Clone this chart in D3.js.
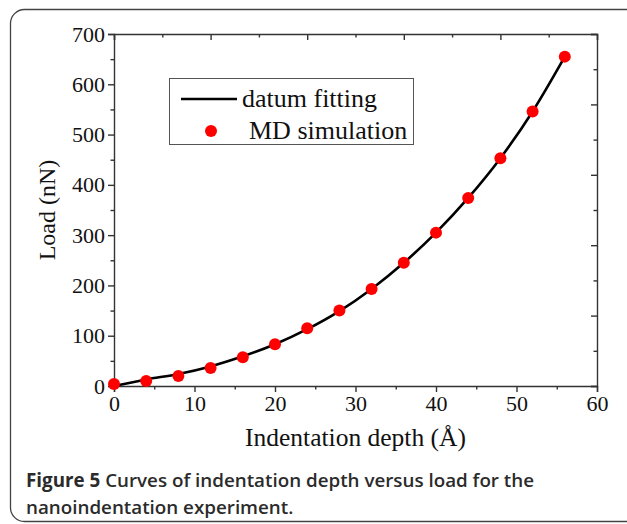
<!DOCTYPE html>
<html>
<head>
<meta charset="utf-8">
<script src="https://cdn.jsdelivr.net/npm/d3@7"></script>
<style>
  body { margin: 0; background: #fff; }
  svg { display: block; }
</style>
</head>
<body>
<div id="chart"></div>
<script>
// Chart size and plot area
const width = 627;
const height = 524;
const margin = { top: 34, right: 30, bottom: 138, left: 114 };

// Data
const depth = [0, 4, 8, 12, 16, 20, 24, 28, 32, 36, 40, 44, 48, 52, 56];
const mdLoad = [4, 10, 20, 36, 57, 83, 115, 150, 193, 245, 305, 374, 453, 546, 655];
const fitDepth = [0, 4, 8, 12, 16, 20, 24, 28, 32, 36, 40, 44, 48, 52, 56];
const fitLoad = [0, 13, 24, 39, 59, 83, 113, 149, 193, 245, 305, 374, 453, 546, 655];
const xTicks = [0, 10, 20, 30, 40, 50, 60];
const yTicks = [0, 100, 200, 300, 400, 500, 600, 700];
const legendLabels = ["datum fitting", "MD simulation"];
const captionBold = "Figure 5";
const captionLines = ["Curves of indentation depth versus load for the", "nanoindentation experiment."];

const svg = d3.select("#chart")
  .append("svg")
  .attr("width", width)
  .attr("height", height);

// Outer frame (right edge runs off the page)
svg.append("rect")
  .attr("x", 10.5).attr("y", 9.5)
  .attr("width", 660).attr("height", 512)
  .attr("rx", 14)
  .attr("fill", "none")
  .attr("stroke", "#444")
  .attr("stroke-width", 1.3);

const x = d3.scaleLinear()
  .domain([0, 60])
  .range([margin.left, width - margin.right]);

const y = d3.scaleLinear()
  .domain([0, 700])
  .range([height - margin.bottom, margin.top]);

const serif = "'Liberation Serif', 'Times New Roman', serif";

// Bottom axis: major + minor, outward
svg.append("g")
  .attr("transform", `translate(0, ${y(0)})`)
  .call(d3.axisBottom(x).tickValues(xTicks).tickSize(6).tickPadding(3).tickFormat(d3.format("d")));
svg.append("g")
  .attr("transform", `translate(0, ${y(0)})`)
  .call(d3.axisBottom(x).tickValues(d3.range(5, 60, 10)).tickSize(3.5).tickFormat(""))
  .select(".domain").remove();

// Left axis
svg.append("g")
  .attr("transform", `translate(${x(0)}, 0)`)
  .call(d3.axisLeft(y).tickValues(yTicks).tickSize(6).tickPadding(3).tickFormat(d3.format("d")));
svg.append("g")
  .attr("transform", `translate(${x(0)}, 0)`)
  .call(d3.axisLeft(y).tickValues(d3.range(50, 700, 100)).tickSize(3.5).tickFormat(""))
  .select(".domain").remove();

// Top axis: inward ticks every 6, alternating length
svg.append("g")
  .attr("transform", `translate(0, ${y(700)})`)
  .call(d3.axisTop(x).tickValues(d3.range(0, 61, 12)).tickSize(-6).tickFormat(""));
svg.append("g")
  .attr("transform", `translate(0, ${y(700)})`)
  .call(d3.axisTop(x).tickValues(d3.range(6, 60, 12)).tickSize(-3.5).tickFormat(""))
  .select(".domain").remove();

// Right axis: inward ticks every 70
svg.append("g")
  .attr("transform", `translate(${x(60)}, 0)`)
  .call(d3.axisRight(y).tickValues(d3.range(0, 701, 140)).tickSize(-6).tickFormat(""));
svg.append("g")
  .attr("transform", `translate(${x(60)}, 0)`)
  .call(d3.axisRight(y).tickValues(d3.range(70, 700, 140)).tickSize(-3.5).tickFormat(""))
  .select(".domain").remove();

svg.selectAll(".domain, .tick line")
  .attr("stroke", "#333")
  .attr("stroke-width", 1.4);

svg.selectAll(".tick text")
  .attr("font-family", serif)
  .attr("font-size", 22)
  .attr("fill", "#111");

// Axis titles
svg.append("text")
  .attr("x", (x(0) + x(60)) / 2)
  .attr("y", 446)
  .attr("text-anchor", "middle")
  .attr("font-family", serif)
  .attr("font-size", 25.5)
  .attr("fill", "#111")
  .text("Indentation depth (Å)");

svg.append("text")
  .attr("transform", `translate(55, ${(y(0) + y(700)) / 2}) rotate(-90)`)
  .attr("text-anchor", "middle")
  .attr("font-family", serif)
  .attr("font-size", 24)
  .attr("fill", "#111")
  .text("Load (nN)");

// Fitted curve
const fitData = fitDepth.map((d, i) => ({ x: d, y: fitLoad[i] }));
const line = d3.line()
  .x(d => x(d.x))
  .y(d => y(d.y))
  .curve(d3.curveMonotoneX);

svg.append("path")
  .datum(fitData)
  .attr("fill", "none")
  .attr("stroke", "#000")
  .attr("stroke-width", 2.6)
  .attr("d", line);

// MD simulation points
svg.append("g")
  .selectAll("circle")
  .data(depth.map((d, i) => ({ x: d, y: mdLoad[i] })))
  .join("circle")
  .attr("cx", d => x(d.x))
  .attr("cy", d => y(d.y))
  .attr("r", 6)
  .attr("fill", "#ff0000");

// Legend
const legend = svg.append("g");
legend.append("rect")
  .attr("x", 169.5).attr("y", 78.5)
  .attr("width", 244).attr("height", 66)
  .attr("fill", "#fff")
  .attr("stroke", "#555")
  .attr("stroke-width", 1);
legend.append("line")
  .attr("x1", 181).attr("x2", 237)
  .attr("y1", 99).attr("y2", 99)
  .attr("stroke", "#000")
  .attr("stroke-width", 2.6);
legend.append("circle")
  .attr("cx", 211).attr("cy", 131)
  .attr("r", 6)
  .attr("fill", "#ff0000");
legend.selectAll("text")
  .data(legendLabels)
  .join("text")
  .attr("x", (d, i) => i === 0 ? 242 : 249)
  .attr("y", (d, i) => i === 0 ? 107 : 139)
  .attr("font-family", serif)
  .attr("font-size", 26)
  .attr("fill", "#111")
  .text(d => d);

// Caption
const cap = svg.append("g")
  .attr("font-family", "'Open Sans', 'Noto Sans', sans-serif")
  .attr("font-size", 18.8)
  .attr("fill", "#2b2b2b");
const t1 = cap.append("text").attr("x", 26).attr("y", 487);
t1.append("tspan").attr("font-weight", 700).text(captionBold + " ");
t1.append("tspan").attr("font-weight", 600).text(captionLines[0]);
cap.append("text")
  .attr("x", 26).attr("y", 514)
  .attr("font-weight", 600)
  .text(captionLines[1]);
</script>
</body>
</html>
